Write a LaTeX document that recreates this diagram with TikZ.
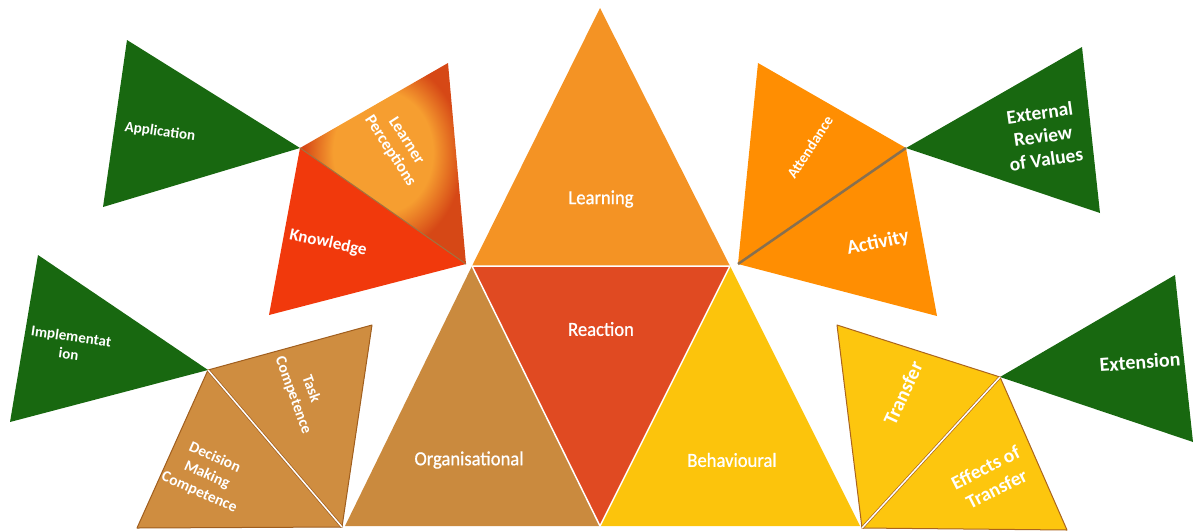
\documentclass[tikz,border=0pt]{standalone}
\usepackage{fontspec}
\setmainfont{Carlito}
\newfontfamily\centralfont[FakeBold=0.8,FakeStretch=0.93]{Carlito}
\definecolor{greenC}{RGB}{24,104,16}
\definecolor{learnC}{RGB}{244,147,36}
\definecolor{reactC}{RGB}{224,74,34}
\definecolor{orgC}{RGB}{202,138,62}
\definecolor{behC}{RGB}{252,196,12}
\definecolor{knowC}{RGB}{241,57,12}
\definecolor{lpIn}{RGB}{246,158,48}
\definecolor{lpOut}{RGB}{214,72,22}
\definecolor{attC}{RGB}{255,142,2}
\definecolor{taskC}{RGB}{207,141,64}
\definecolor{taskEdge}{RGB}{160,94,30}
\definecolor{transC}{RGB}{253,198,14}
\definecolor{transEdge}{RGB}{170,100,30}
\definecolor{sepGray}{RGB}{135,112,80}
\pgfdeclareradialshading{lpshade}{\pgfpoint{0bp}{4bp}}{color(0bp)=(lpIn); color(15bp)=(lpIn); color(24bp)=(lpOut); color(50bp)=(lpOut)}
\begin{document}
\begin{tikzpicture}[x=1pt,y=-1pt,
  lbl/.style={text=white,font=\bfseries\fontsize{15}{18}\selectfont,align=center,inner sep=0pt},
  lblbig/.style={text=white,font=\bfseries\fontsize{20}{24}\selectfont,align=center,inner sep=0pt},
  big/.style={text=white,font=\centralfont\fontsize{20}{22}\selectfont,inner sep=0pt}]
\useasboundingbox (0,0) rectangle (1199,531);
% ---------- coordinates ----------
\coordinate (LA) at (600,8);
\coordinate (C1) at (472,266);
\coordinate (C2) at (730,266);
\coordinate (RB) at (600,526);
\coordinate (OL) at (345,526);
\coordinate (BR) at (860,526);
% left upper cluster
\coordinate (P1) at (300,148);
\coordinate (LPt) at (448,63);
\coordinate (KA) at (466,264);
\coordinate (Kb) at (269,315);
\coordinate (AppT) at (127,40);
\coordinate (AppB) at (103,207);
% right upper cluster
\coordinate (HR) at (906,148);
\coordinate (At) at (758,63);
\coordinate (Atip) at (738,264);
\coordinate (Ab) at (937,316);
\coordinate (ERt) at (1082,47);
\coordinate (ERb) at (1100,213);
% lower left cluster
\coordinate (HL) at (208,370);
\coordinate (TC) at (372,325);
\coordinate (Tb) at (342,527);
\coordinate (DB) at (137,528);
\coordinate (ImT) at (38,255);
\coordinate (ImB) at (10,422);
% lower right cluster
\coordinate (HT) at (1000,377);
\coordinate (TT) at (837,325);
\coordinate (Tb2) at (862,528);
\coordinate (EB) at (1067,530);
\coordinate (ExT) at (1175,275);
\coordinate (ExB) at (1193,442);
% ---------- central triangles ----------
\fill[learnC] (LA) -- (C1) -- (C2) -- cycle;
\fill[reactC] (C1) -- (C2) -- (RB) -- cycle;
\fill[orgC] (C1) -- (OL) -- (RB) -- cycle;
\fill[behC] (C2) -- (RB) -- (BR) -- cycle;
\draw[white,line width=1.5pt] (C1) -- (C2) (C1) -- (RB) -- (C2);
\node[big] (learning) at (601,199) {Learning};
\node[big] (reaction) at (601,329) {Reaction};
\node[big] (organisational) at (469,460) {Organisational};
\node[big] (behavioural) at (732,460) {Behavioural};
% ---------- left upper ----------
\fill[greenC] (AppT) -- (P1) -- (AppB) -- cycle;
\fill[knowC] (P1) -- (KA) -- (Kb) -- cycle;
\shade[shading=lpshade] (P1) -- (LPt) -- (KA) -- cycle;
\draw[sepGray!80!orange,line width=1pt] (P1) -- (KA);
\node[lbl,rotate=-8] (application) at (160,132) {Application};
\node[lbl,font=\bfseries\fontsize{16.5}{19}\selectfont,rotate=-57] (learnerp) at (398,146) {Learner\\Perceptions};
\node[lbl,font=\bfseries\fontsize{17}{18}\selectfont,rotate=-12] (knowledge) at (328,243) {Knowledge};
% ---------- right upper ----------
\fill[greenC] (HR) -- (ERt) -- (ERb) -- cycle;
\fill[attC] (At) -- (HR) -- (Atip) -- cycle;
\fill[attC] (HR) -- (Ab) -- (Atip) -- cycle;
\draw[sepGray,line width=2.5pt] (Atip) -- (HR);
\node[lbl,rotate=57] (attendance) at (810,147) {Attendance};
\node[lblbig,rotate=12] (activity) at (878,243) {Activity};
\node[lblbig,rotate=8,font=\bfseries\fontsize{19.5}{23.5}\selectfont] (external) at (1043,136) {External\\Review\\of Values};
% ---------- lower left ----------
\fill[greenC] (ImT) -- (HL) -- (ImB) -- cycle;
\filldraw[fill=taskC,draw=taskEdge,line width=1pt,line join=round] (HL) -- (TC) -- (Tb) -- cycle;
\filldraw[fill=taskC,draw=taskEdge,line width=1pt,line join=round] (HL) -- (Tb) -- (DB) -- cycle;
\draw[taskEdge,double=white,double distance=1.5pt,line width=0.7pt] (HL) -- (Tb);
\node[lbl,rotate=-8] (implementation) at (70,345) {Implementat\\ion};
\node[lbl,font=\bfseries\fontsize{15.5}{19}\selectfont,rotate=-70] (task) at (302,392) {Task\\Competence};
\node[lbl,font=\bfseries\fontsize{15.5}{19}\selectfont,rotate=-24] (decision) at (207,475) {Decision\\Making\\Competence};
% ---------- lower right ----------
\fill[greenC] (HT) -- (ExT) -- (ExB) -- cycle;
\filldraw[fill=transC,draw=transEdge,line width=1pt,line join=round] (TT) -- (HT) -- (Tb2) -- cycle;
\filldraw[fill=transC,draw=transEdge,line width=1pt,line join=round] (HT) -- (EB) -- (Tb2) -- cycle;
\draw[transEdge,double=white,double distance=1.5pt,line width=0.7pt] (HT) -- (Tb2);
\node[lblbig,rotate=65] (transfer) at (903,393) {Transfer};
\node[lblbig,rotate=27,font=\bfseries\fontsize{19.5}{24}\selectfont] (effects) at (991,478) {Effects of\\Transfer};
\node[lblbig,rotate=4] (extension) at (1140,362) {Extension};
\end{tikzpicture}
\end{document}
